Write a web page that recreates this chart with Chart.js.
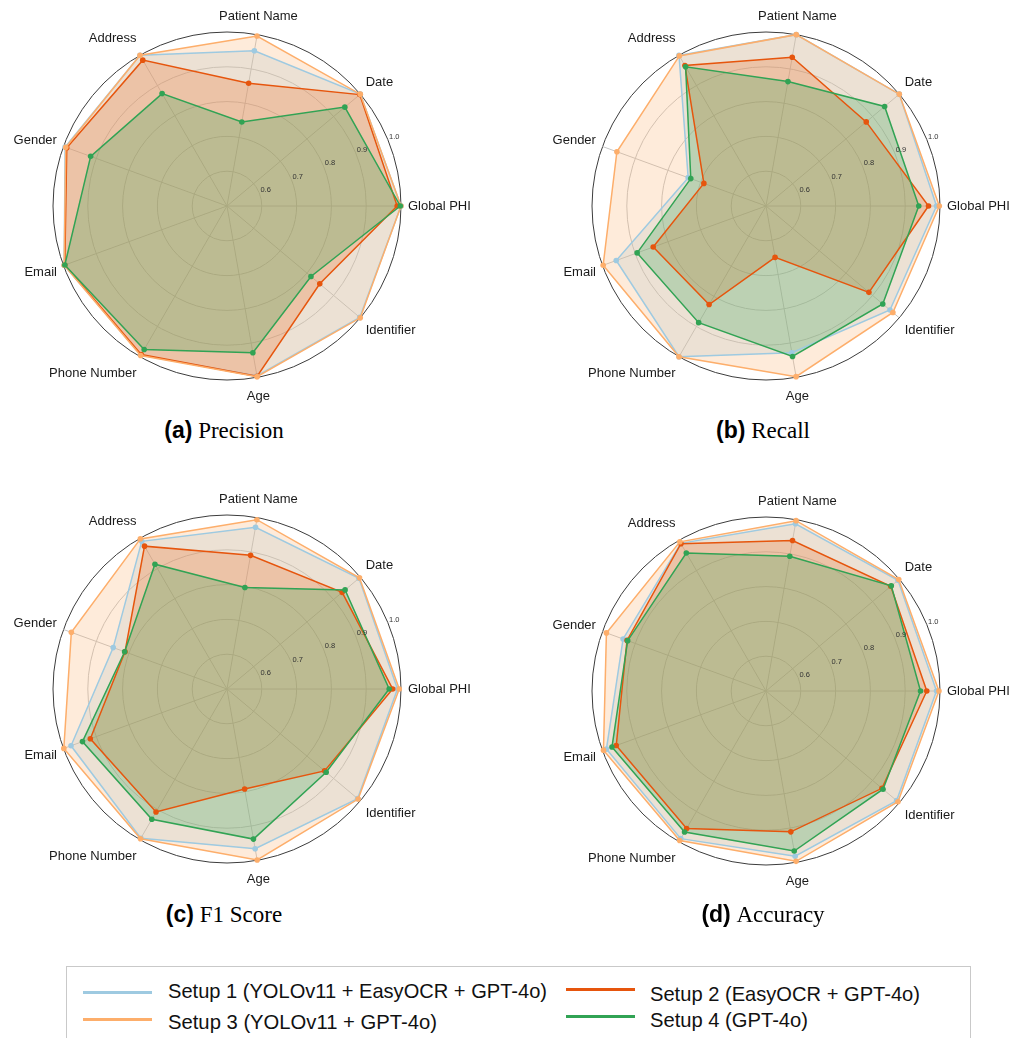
<!DOCTYPE html>
<html>
<head>
<meta charset="utf-8">
<script src="https://cdn.jsdelivr.net/npm/chart.js@4.4.1/dist/chart.umd.min.js"></script>
<style>
  html, body { margin: 0; padding: 0; background: #fff; width: 1011px; height: 1038px; overflow: hidden; position: relative; }
  canvas { position: absolute; }
  .title { position: absolute; width: 300px; text-align: center; font-size: 23px; line-height: 28px; color: #000; white-space: nowrap; }
  .title b { font-family: "Liberation Sans", Arial, sans-serif; font-weight: bold; }
  .title span { font-family: "Liberation Serif", "Times New Roman", serif; }
  #legendBox { position: absolute; left: 66px; top: 966px; width: 905px; height: 100px; border: 1.5px solid #c9c9c9; box-sizing: border-box; }
  .sw { position: absolute; height: 3px; width: 69px; }
  .lt { position: absolute; font-family: "Liberation Sans Narrow", "Liberation Sans", Arial, sans-serif; font-size: 21px; line-height: 24px; white-space: nowrap; transform-origin: 0 50%; color: #111; }
</style>
</head>
<body>
<canvas id="chartA"></canvas>
<canvas id="chartB"></canvas>
<canvas id="chartC"></canvas>
<canvas id="chartD"></canvas>

<div class="title" id="titleA"><b>(a)</b> <span>Precision</span></div>
<div class="title" id="titleB"><b>(b)</b> <span>Recall</span></div>
<div class="title" id="titleC"><b>(c)</b> <span>F1 Score</span></div>
<div class="title" id="titleD"><b>(d)</b> <span>Accuracy</span></div>

<div id="legendBox"></div>
<div id="legendItems"></div>

<script>
// Axis categories, counter-clockwise from the right-hand axis
const categories = ['Global PHI', 'Date', 'Patient Name', 'Address', 'Gender', 'Email', 'Phone Number', 'Age', 'Identifier'];

const setupNames = [
  'Setup 1 (YOLOv11 + EasyOCR + GPT-4o)',
  'Setup 2 (EasyOCR + GPT-4o)',
  'Setup 3 (YOLOv11 + GPT-4o)',
  'Setup 4 (GPT-4o)'
];
const setupColors = ['#9ecae1', '#e6550d', '#fdae6b', '#31a354'];

const tickValues = [0.6, 0.7, 0.8, 0.9, 1.0];

// One row per setup, values in the order of `categories`
const precision = [
  [1.000, 1.000, 0.953, 1.000, 0.995, 0.998, 0.995, 0.996, 0.998],
  [0.989, 0.998, 0.858, 0.984, 0.990, 0.996, 0.993, 0.997, 0.848],
  [1.000, 1.000, 0.996, 1.000, 0.993, 0.998, 0.996, 0.998, 1.000],
  [0.998, 0.942, 0.745, 0.873, 0.917, 0.996, 0.976, 0.928, 0.815]
];
const recall = [
  [0.990, 1.000, 1.000, 1.000, 0.738, 0.958, 1.000, 0.928, 0.965],
  [0.967, 0.876, 0.934, 0.966, 0.690, 0.845, 0.827, 0.650, 0.886],
  [0.998, 1.000, 1.000, 0.998, 0.956, 0.998, 1.000, 0.998, 0.976],
  [0.939, 0.945, 0.863, 0.962, 0.730, 0.894, 0.887, 0.939, 0.938]
];
const f1Score = [
  [0.990, 0.995, 0.972, 0.990, 0.848, 0.977, 0.995, 0.966, 0.990],
  [0.976, 0.932, 0.890, 0.974, 0.812, 0.918, 0.908, 0.792, 0.866],
  [0.995, 0.997, 0.994, 0.998, 0.976, 0.999, 0.997, 0.999, 0.992],
  [0.966, 0.943, 0.796, 0.914, 0.813, 0.942, 0.932, 0.938, 0.872]
];
const accuracy = [
  [0.990, 0.995, 0.988, 0.990, 0.937, 0.988, 0.990, 0.982, 0.990],
  [0.962, 0.968, 0.939, 0.989, 0.925, 0.958, 0.956, 0.911, 0.935],
  [0.997, 0.998, 0.997, 0.995, 0.988, 0.997, 0.996, 0.997, 0.995],
  [0.944, 0.970, 0.893, 0.958, 0.923, 0.971, 0.968, 0.967, 0.939]
];

// Chart.js places radar axes clockwise; keep the first axis and reverse the rest
const clockwise = arr => [arr[0], ...arr.slice(1).reverse()];

function withAlpha(hex, a) {
  const n = parseInt(hex.slice(1), 16);
  return `rgba(${(n >> 16) & 255}, ${(n >> 8) & 255}, ${n & 255}, ${a})`;
}

const RADIUS = 174.5;
const CANVAS_W = 520, CANVAS_H = 420;

// Radial tick labels along a 22.5° ray, and axis category labels outside the rim
const axisText = {
  id: 'axisText',
  afterDatasetsDraw(chart) {
    const scale = chart.scales.r;
    const ctx = chart.ctx;
    ctx.save();
    ctx.font = '7.5px "Liberation Sans", Arial, sans-serif';
    ctx.fillStyle = '#333';
    ctx.textAlign = 'center';
    ctx.textBaseline = 'middle';
    const rayAngle = -22.5 * Math.PI / 180;
    tickValues.forEach(v => {
      const d = scale.getDistanceFromCenterForValue(v) + 7;
      ctx.fillText(v.toFixed(1), scale.xCenter + d * Math.cos(rayAngle), scale.yCenter + d * Math.sin(rayAngle));
    });

    ctx.font = '13px "Liberation Sans", Arial, sans-serif';
    ctx.fillStyle = '#1a1a1a';
    const outer = scale.getDistanceFromCenterForValue(scale.max);
    chart.data.labels.forEach((label, i) => {
      const p = scale.getPointPosition(i, outer + 7);
      const c = Math.cos(p.angle), s = Math.sin(p.angle);
      if (Math.abs(c) > 0.3) ctx.textAlign = c > 0 ? 'left' : 'right';
      else ctx.textAlign = 'center';
      ctx.fillText(label, p.x, p.y + s * 12);
    });
    ctx.restore();
  }
};

function drawRadar(id, cx, cy, values) {
  const canvas = document.getElementById(id);
  canvas.width = CANVAS_W;
  canvas.height = CANVAS_H;
  canvas.style.width = CANVAS_W + 'px';
  canvas.style.height = CANVAS_H + 'px';
  canvas.style.left = (cx - CANVAS_W / 2) + 'px';
  canvas.style.top = (cy - CANVAS_H / 2) + 'px';
  const padX = CANVAS_W / 2 - RADIUS, padY = CANVAS_H / 2 - RADIUS;

  return new Chart(canvas, {
    type: 'radar',
    data: {
      labels: clockwise(categories),
      datasets: values.map((row, k) => ({
        label: setupNames[k],
        data: clockwise(row),
        borderColor: setupColors[k],
        backgroundColor: withAlpha(setupColors[k], 0.25),
        pointBackgroundColor: setupColors[k],
        pointBorderColor: setupColors[k],
        pointBorderWidth: 0,
        pointRadius: 2.8,
        borderWidth: 1.5,
        fill: 'start',
        order: values.length - k
      }))
    },
    options: {
      responsive: false,
      animation: false,
      devicePixelRatio: 1,
      layout: { padding: { left: padX, right: padX, top: padY, bottom: padY } },
      plugins: {
        legend: { display: false },
        tooltip: { enabled: false },
        // all translucent areas first, outlines and markers on top
        filler: { drawTime: 'beforeDatasetsDraw' }
      },
      elements: { line: { tension: 0 } },
      scales: {
        r: {
          min: 0.5,
          max: 1.0,
          startAngle: 90,
          ticks: { display: false, stepSize: 0.1 },
          pointLabels: { display: false },
          grid: {
            circular: true,
            color: ctx => (ctx.tick && ctx.tick.value >= 0.999) ? '#3c3c3c' : '#c6c6c6',
            lineWidth: 1
          },
          angleLines: { color: '#c6c6c6', lineWidth: 1 }
        }
      }
    },
    plugins: [axisText]
  });
}

const panels = [
  { id: 'chartA', title: 'titleA', cx: 227, cy: 205.5, values: precision, titleY: 430 },
  { id: 'chartB', title: 'titleB', cx: 766, cy: 206, values: recall, titleY: 430 },
  { id: 'chartC', title: 'titleC', cx: 227, cy: 689, values: f1Score, titleY: 914 },
  { id: 'chartD', title: 'titleD', cx: 766, cy: 690.5, values: accuracy, titleY: 914 }
];

panels.forEach(p => {
  drawRadar(p.id, p.cx, p.cy, p.values);
  const t = document.getElementById(p.title);
  t.style.left = (p.cx - 3 - 150) + 'px';
  t.style.top = (p.titleY - 14) + 'px';
});

// Shared legend for the four panels
const legendLayout = [
  { x: 83, lineY: 992, textX: 168, textY: 991, textW: 379 },
  { x: 566, lineY: 989, textX: 650, textY: 994, textW: 270 },
  { x: 83, lineY: 1019, textX: 168, textY: 1022, textW: 269 },
  { x: 566, lineY: 1016, textX: 650, textY: 1020, textW: 158 }
];
const legendItems = document.getElementById('legendItems');
setupNames.forEach((name, k) => {
  const L = legendLayout[k];
  const sw = document.createElement('div');
  sw.className = 'sw';
  sw.style.left = L.x + 'px';
  sw.style.top = (L.lineY - 1.5) + 'px';
  sw.style.background = setupColors[k];
  legendItems.appendChild(sw);
  const tx = document.createElement('div');
  tx.className = 'lt';
  tx.textContent = name;
  tx.style.left = L.textX + 'px';
  tx.style.top = (L.textY - 12) + 'px';
  legendItems.appendChild(tx);
  const natural = tx.getBoundingClientRect().width;
  if (natural > 0) tx.style.transform = `scaleX(${L.textW / natural})`;
});
</script>
</body>
</html>
